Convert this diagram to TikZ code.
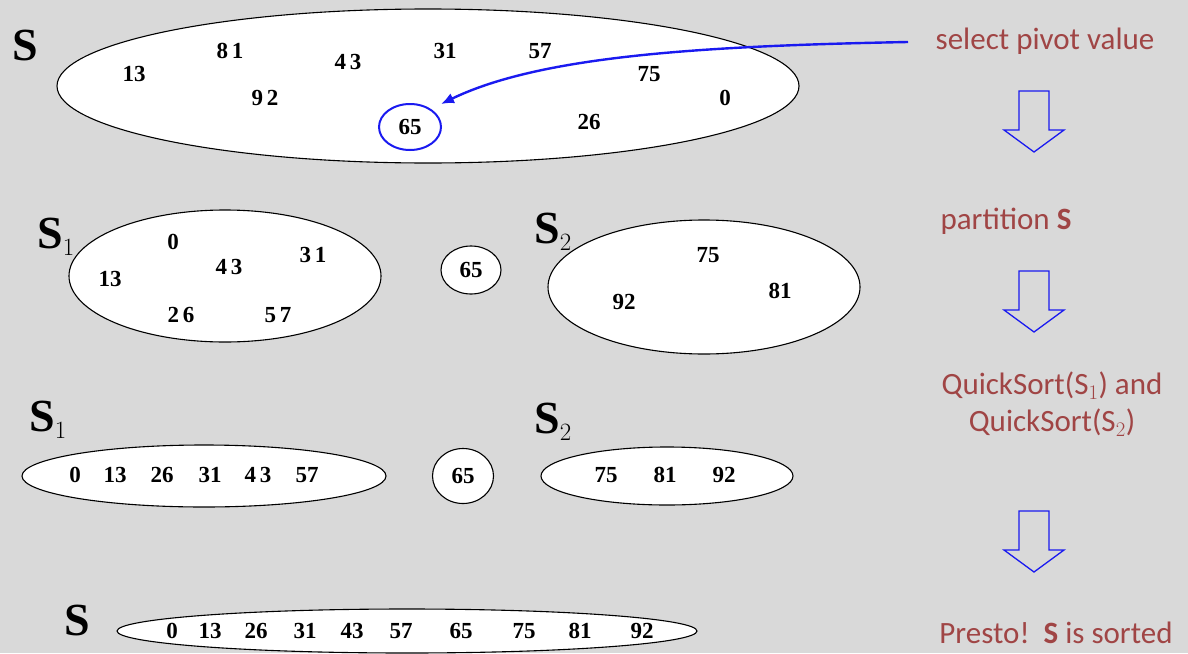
\documentclass[tikz,border=0pt]{standalone}
\usepackage{fontspec}
\setmainfont{Liberation Serif}
\newfontfamily\calib{Carlito}
\usetikzlibrary{arrows.meta,shapes.geometric}
\definecolor{bg}{HTML}{D9D9D9}
\definecolor{note}{HTML}{A04545}
\definecolor{pblue}{HTML}{1A1AF0}
\tikzset{
  setell/.style={draw=black,fill=white,line width=1.1pt},
  num/.style={font=\fontsize{23}{23}\selectfont\bfseries,inner sep=0pt},
  setlbl/.style={font=\fontsize{46}{46}\selectfont\rmfamily,inner sep=0pt},
  notetxt/.style={font=\calib\fontsize{31}{37}\selectfont,text=note,align=center,inner sep=0pt},
  hollow/.style={draw=pblue,line width=1.3pt,line join=miter},
}
\newcommand{\downarrowshape}[1]{%
  \draw[hollow] (1019,#1) -- (1049,#1) -- (1049,#1+39) -- (1064,#1+39) -- (1034,#1+61) -- (1004,#1+39) -- (1019,#1+39) -- cycle;}
\begin{document}
\begin{tikzpicture}[x=1pt,y=-1pt]
\fill[bg] (0,0) rectangle (1188,653);
\useasboundingbox (0,0) rectangle (1188,653);

% ---- row 1
\node[setlbl] (lS) at (25,45) {$\mathbf{S}$};
\draw[setell] (428,86) ellipse [x radius=371,y radius=77];
\node[num] (a13) at (134,74) {13};
\node[num] (a81) at (230,51) {8\,1};
\node[num] (a43) at (348,62) {4\,3};
\node[num] (a31) at (445,51) {31};
\node[num] (a57) at (540,51) {57};
\node[num] (a75) at (649,74) {75};
\node[num] (a0) at (725,98) {0};
\node[num] (a92) at (265,98) {9\,2};
\node[num] (a26) at (589,122) {26};
\node[num,draw=pblue,line width=2pt,ellipse,minimum width=62pt,minimum height=46pt,inner sep=0pt] (p65) at (410,127) {65};
\coordinate (src) at (908,42);
\coordinate (tip) at (441,104);
\draw[pblue,line width=2.4pt,-{Latex[length=13pt,width=11pt]}] (src) .. controls (700,46) and (540,56) .. (tip);

% ---- right notes
\node[notetxt] (n1) at (1045,41) {select pivot value};
\downarrowshape{91}
\node[notetxt] (n2) at (1006,221) {partition \textbf{S}};
\downarrowshape{271}
\node[notetxt] (n3) at (1052,404) {QuickSort(S$_1$) and\\QuickSort(S$_2$)};
\downarrowshape{511}
\node[notetxt] (n4) at (1056,633) {Presto!\ \ \textbf{S} is sorted};

% ---- row 2
\node[setlbl] (lS1a) at (56,237) {$\mathbf{S}_1$};
\draw[setell] (225,276) ellipse [x radius=156,y radius=66];
\node[num] (b0) at (173,242) {0};
\node[num] (b43) at (229,267) {4\,3};
\node[num] (b31) at (313,255) {3\,1};
\node[num] (b13) at (110,279) {13};
\node[num] (b26) at (181,315) {2\,6};
\node[num] (b57) at (278,315) {5\,7};
\node[num,draw=black,line width=1.1pt,fill=white,ellipse,minimum width=60pt,minimum height=48pt] (b65) at (471,270) {65};
\node[setlbl] (lS2a) at (553,232) {$\mathbf{S}_2$};
\draw[setell] (704,287) ellipse [x radius=156,y radius=67];
\node[num] (c75) at (708,255) {75};
\node[num] (c81) at (780,291) {81};
\node[num] (c92) at (624,302) {92};

% ---- row 3
\node[setlbl] (lS1b) at (48,420) {$\mathbf{S}_1$};
\draw[setell] (204,476) ellipse [x radius=182,y radius=31];
\foreach \v/\x/\t in {0/75/0,13/115/13,26/162/26,31/210/31,43/258/{4\,3},57/307/57}
  \node[num] (d\v) at (\x,475) {\t};
\node[num,draw=black,line width=1.1pt,fill=white,ellipse,minimum width=61pt,minimum height=55pt] (d65) at (463,476) {65};
\node[setlbl] (lS2b) at (553,422) {$\mathbf{S}_2$};
\draw[setell] (667,476) ellipse [x radius=126,y radius=29];
\foreach \v/\x in {75/606,81/665,92/724}
  \node[num] (e\v) at (\x,475) {\v};

% ---- row 4
\node[setlbl] (lS3) at (77,620) {$\mathbf{S}$};
\draw[setell] (407,631) ellipse [x radius=290,y radius=22];
\foreach \v/\x in {0/172,13/210,26/256,31/305,43/352,57/401,65/461,75/524,81/580,92/642}
  \node[num] (f\v) at (\x,631) {\v};
\end{tikzpicture}
\end{document}
